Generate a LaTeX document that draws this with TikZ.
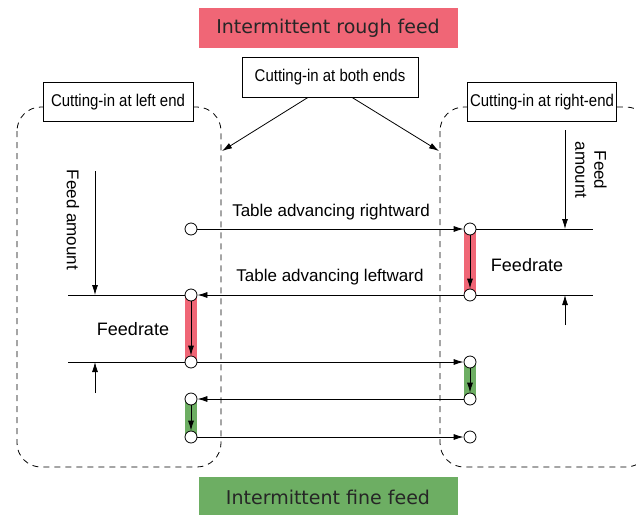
\documentclass[tikz,border=0pt]{standalone}
\usepackage{fontspec}
\setmainfont{Liberation Sans}
\newfontfamily\condfont[FakeStretch=0.88]{Liberation Sans}
\newfontfamily\bandfont{DejaVu Sans}
\usepackage{xcolor}
\usetikzlibrary{positioning,arrows.meta,backgrounds}
\definecolor{roughred}{HTML}{F06676}
\definecolor{finegreen}{HTML}{6DAE63}
\tikzset{%
	tag/.style  = {draw, fill=white, inner sep=0pt,
		font=\condfont\fontsize{17}{19}\selectfont},
	band/.style = {inner sep=0pt, minimum width=259pt, minimum height=40pt,
		text=black!85, font=\bandfont\fontsize{19}{23}\selectfont},
	station/.style = {circle, draw, fill=white, minimum size=12pt, inner sep=0pt},
	zone/.style = {draw, dash pattern=on 6pt off 5pt, rounded corners=24pt},
	lbl/.style  = {inner sep=0pt, font=\fontsize{17}{19}\selectfont}
}

\begin{document}
\begin{tikzpicture}[x=1pt, y=-1pt, line width=0.8pt,
	>={Latex[length=10pt,width=6pt]}]
	\clip (0,0) rectangle (636,514);
	
	% dashed regions
	\draw[zone] (17,107) rectangle (221,467);
	\draw[zone] (440,107) rectangle (650,467);
	
	% headings
	\node[band, fill=roughred] (rough) at (328,28) {Intermittent rough feed};
	\node[band, fill=finegreen, minimum height=40pt] (fine) at (328,497) {Intermittent fine feed};
	\node[tag, minimum width=176pt, minimum height=40pt] (both) at (330,77) {Cutting-in at both ends};
	\node[tag, minimum width=150pt, minimum height=39pt] (leftend) at (118,102) {Cutting-in at left end};
	\node[tag, minimum width=149pt, minimum height=39pt] (rightend) at (542,102) {Cutting-in at right-end};
	
	\coordinate (lzone) at (222,151);
	\coordinate (rzone) at (439,151);
	\draw[->] ([xshift=-22pt]both.south) -- (lzone);
	\draw[->] ([xshift=22pt]both.south) -- (rzone);
	
	% tool positions
	\node[station] (l1) at (191,229) {};
	\node[station] (l2) at (191,295) {};
	\node[station] (l3) at (191,362) {};
	\node[station] (l4) at (191,399) {};
	\node[station] (l5) at (191,437) {};
	\node[station] (r1) at (470,229) {};
	\node[station] (r2) at (470,295) {};
	\node[station] (r3) at (470,362) {};
	\node[station] (r4) at (470,399) {};
	\node[station] (r5) at (470,437) {};
	
	\begin{scope}[on background layer]
		\fill[roughred] ([xshift=-6pt]r1.center) rectangle ([xshift=6pt]r2.center);
		\fill[roughred] ([xshift=-6pt]l2.center) rectangle ([xshift=6pt]l3.center);
		\fill[finegreen] ([xshift=-6pt]r3.center) rectangle ([xshift=6pt]r4.center);
		\fill[finegreen] ([xshift=-6pt]l4.center) rectangle ([xshift=6pt]l5.center);
	\end{scope}
	
	\draw[->] (l1) -- (r1);
	\draw[->] (r1) -- (r2);
	\draw[->] (r2) -- (l2);
	\draw[->] (l2) -- (l3);
	\draw[->] (l3) -- (r3);
	\draw[->] (r3) -- (r4);
	\draw[->] (r4) -- (l4);
	\draw[->] (l4) -- (l5);
	\draw[->] (l5) -- (r5);
	
	% extension lines
	\coordinate (lext2) at (68,295);
	\coordinate (lext3) at (68,362);
	\coordinate (rext1) at (593,229);
	\coordinate (rext2) at (593,295);
	\draw (lext2) -- (l2);
	\draw (lext3) -- (l3);
	\draw (r1) -- (rext1);
	\draw (r2) -- (rext2);
	
	% feed amount / feedrate arrows
	\coordinate (lfeedtop) at (95,171);
	\coordinate (lfeedbot) at (95,295);
	\coordinate (lratebot) at (95,393);
	\coordinate (lratetop) at (95,362);
	\coordinate (rfeedtop) at (565,130);
	\coordinate (rfeedbot) at (565,229);
	\coordinate (rratebot) at (565,325);
	\coordinate (rratetop) at (565,295);
	\draw[->] (lfeedtop) -- (lfeedbot);
	\draw[->] (lratebot) -- (lratetop);
	\draw[->] (rfeedtop) -- (rfeedbot);
	\draw[->] (rratebot) -- (rratetop);
	
	% labels
	\node[lbl] (rightward) at (331,212) {Table advancing rightward};
	\node[lbl] (leftward) at (330,277) {Table advancing leftward};
	\node[lbl, font=\fontsize{18}{20}\selectfont] (rateL) at (133,329) {Feedrate};
	\node[lbl, font=\fontsize{18}{20}\selectfont] (rateR) at (527,265) {Feedrate};
	\node[lbl, rotate=-90] (amountL) at (73,220) {Feed amount};
	\node[lbl, rotate=-90, align=center] (amountR) at (591,170) {Feed\\amount};
\end{tikzpicture}
\end{document}
